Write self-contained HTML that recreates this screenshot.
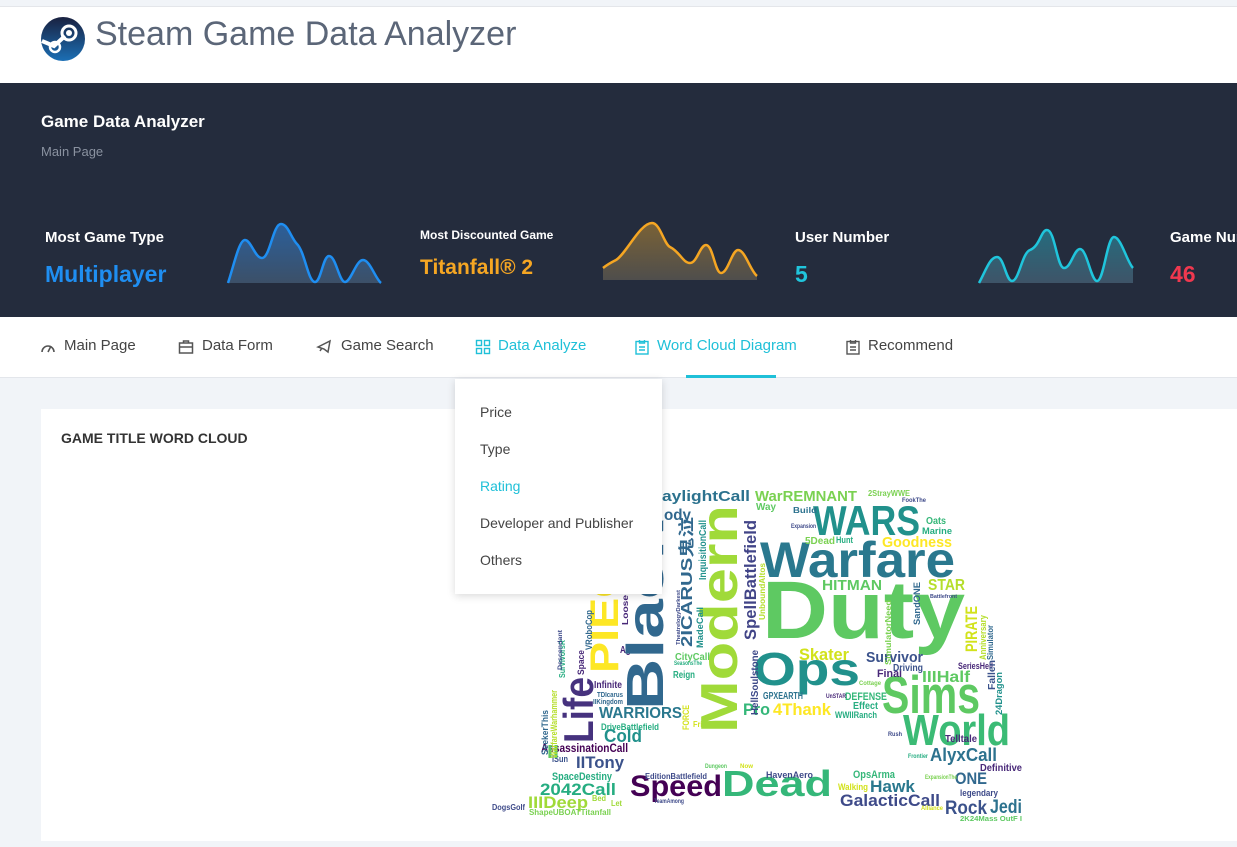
<!DOCTYPE html>
<html><head><meta charset="utf-8">
<style>
*{margin:0;padding:0;box-sizing:border-box}
body{width:1237px;height:847px;overflow:hidden;background:#f1f4f8;font-family:"Liberation Sans",sans-serif;position:relative}
.abs{position:absolute}
#topbar{left:0;top:0;width:1237px;height:83px;background:#fff;border-top:1px solid #e4e6ea;margin-top:6px}
#hero{left:0;top:83px;width:1237px;height:234px;background:#242c3d}
.lbl{color:#fff;font-weight:bold;white-space:nowrap}
#nav{left:0;top:317px;width:1237px;height:61px;background:#fff;border-bottom:1px solid #e3e6eb}
.navi{position:absolute;top:337px;font-size:15px;color:#444;white-space:nowrap}
.navi.act{color:#1fc0d8}
.ico{position:absolute;top:339px}
#card{left:41px;top:409px;width:1210px;height:432px;background:#fff}
#dd{left:455px;top:379px;width:207px;height:215px;background:#fff;box-shadow:0 2px 8px rgba(0,0,0,.15);z-index:5}
.ddi{position:absolute;left:25px;font-size:14px;color:#444}
</style></head><body>
<div id="topbar" class="abs"></div>
<svg class="abs" style="left:40px;top:16px" width="48" height="48">
<defs><linearGradient id="lg" x1="0" y1="0" x2="0" y2="1"><stop offset="0" stop-color="#1a2140"/><stop offset="1" stop-color="#1b6fb5"/></linearGradient></defs>
<circle cx="23" cy="23" r="22" fill="url(#lg)"/>
<circle cx="29" cy="17" r="7" fill="none" stroke="#fff" stroke-width="3"/>
<circle cx="29" cy="17" r="3" fill="#fff"/>
<path d="M2 25 L14 30 L25 20" stroke="#fff" stroke-width="4" fill="none"/>
<circle cx="15" cy="31" r="5" fill="none" stroke="#fff" stroke-width="2.5"/>
</svg>
<div class="abs" style="left:95px;top:15px;font-size:34px;color:#5b6678;white-space:nowrap">Steam Game Data Analyzer</div>

<div id="hero" class="abs"></div>
<div class="abs lbl" style="left:41px;top:112px;font-size:17px">Game Data Analyzer</div>
<div class="abs" style="left:41px;top:144px;font-size:13px;color:#8a92a0">Main Page</div>

<div class="abs lbl" style="left:45px;top:229px;font-size:15px">Most Game Type</div>
<div class="abs" style="left:45px;top:261px;font-size:23px;color:#1f8ef1;font-weight:bold">Multiplayer</div>
<div class="abs lbl" style="left:420px;top:228px;font-size:12px">Most Discounted Game</div>
<div class="abs" style="left:420px;top:256px;font-size:21px;color:#f5a623;font-weight:bold">Titanfall® 2</div>
<div class="abs lbl" style="left:795px;top:229px;font-size:15px">User Number</div>
<div class="abs" style="left:795px;top:261px;font-size:23px;color:#20c5dc;font-weight:bold">5</div>
<div class="abs lbl" style="left:1170px;top:229px;font-size:15px">Game Number</div>
<div class="abs" style="left:1170px;top:261px;font-size:23px;color:#f0384f;font-weight:bold">46</div>

<svg class="abs" style="left:0;top:0" width="1237" height="317">
<defs>
<linearGradient id="g1" x1="0" y1="0" x2="0" y2="1"><stop offset="0" stop-color="#2b5f9a"/><stop offset="1" stop-color="#3c5068"/></linearGradient>
<linearGradient id="g2" x1="0" y1="0" x2="0" y2="1"><stop offset="0" stop-color="#7a6236"/><stop offset="1" stop-color="#4f4e4c"/></linearGradient>
<linearGradient id="g3" x1="0" y1="0" x2="0" y2="1"><stop offset="0" stop-color="#256c7e"/><stop offset="1" stop-color="#3e5468"/></linearGradient>
</defs>
<g>
<path d="M228 283 C234 265 239 240 245 240 C251 240 255 258 262 258 C270 258 273 224 281 224 C288 224 291 238 297 244 C305 252 308 282 315 282 C321 282 323 256 329 256 C336 256 339 282 345 282 C351 282 356 260 363 260 C370 260 375 278 381 283 Z" fill="url(#g1)"/>
<path d="M228 283 C234 265 239 240 245 240 C251 240 255 258 262 258 C270 258 273 224 281 224 C288 224 291 238 297 244 C305 252 308 282 315 282 C321 282 323 256 329 256 C336 256 339 282 345 282 C351 282 356 260 363 260 C370 260 375 278 381 283" fill="none" stroke="#1f8ef1" stroke-width="2.5"/>
</g>
<g>
<path d="M603 280 L603 268 C608 264 612 262 616 260 C626 254 640 223 652 223 C660 223 664 244 670 247 C680 252 683 263 690 263 C697 263 700 245 706 245 C713 245 715 273 721 273 C728 273 732 250 738 250 C745 250 750 270 757 276 L757 280 Z" fill="url(#g2)"/>
<path d="M603 268 C608 264 612 262 616 260 C626 254 640 223 652 223 C660 223 664 244 670 247 C680 252 683 263 690 263 C697 263 700 245 706 245 C713 245 715 273 721 273 C728 273 732 250 738 250 C745 250 750 270 757 276" fill="none" stroke="#f5a623" stroke-width="2.5"/>
</g>
<g>
<path d="M979 283 C986 270 990 257 997 257 C1004 257 1006 281 1012 281 C1019 281 1022 253 1030 250 C1040 246 1041 230 1047 230 C1055 230 1057 268 1064 268 C1071 268 1074 249 1080 249 C1087 249 1091 281 1097 281 C1104 281 1107 237 1114 237 C1121 237 1127 262 1133 268 L1133 283 Z" fill="url(#g3)"/>
<path d="M979 283 C986 270 990 257 997 257 C1004 257 1006 281 1012 281 C1019 281 1022 253 1030 250 C1040 246 1041 230 1047 230 C1055 230 1057 268 1064 268 C1071 268 1074 249 1080 249 C1087 249 1091 281 1097 281 C1104 281 1107 237 1114 237 C1121 237 1127 262 1133 268" fill="none" stroke="#20c5dc" stroke-width="2.5"/>
</g>
</svg>

<div id="nav" class="abs"></div>
<svg class="ico" style="left:40px;top:339px" width="16" height="16"><path d="M2 13 A6 6 0 0 1 14 13" fill="none" stroke="#555" stroke-width="1.6"/><path d="M8 13 L11 7" stroke="#555" stroke-width="1.6"/></svg>
<div class="navi" style="left:64px">Main Page</div>
<svg class="ico" style="left:178px" width="16" height="16"><rect x="1.5" y="4" width="13" height="10" fill="none" stroke="#555" stroke-width="1.5"/><path d="M5.5 4 V2 H10.5 V4 M1.5 8 H14.5" fill="none" stroke="#555" stroke-width="1.5"/></svg>
<div class="navi" style="left:202px">Data Form</div>
<svg class="ico" style="left:316px" width="18" height="16"><path d="M2 8 L14 2 L12 13 L8 10 Z M4 12 L6 9" fill="none" stroke="#555" stroke-width="1.5"/></svg>
<div class="navi" style="left:341px">Game Search</div>
<svg class="ico" style="left:475px" width="16" height="16"><g fill="none" stroke="#1fc0d8" stroke-width="1.4"><rect x="1.5" y="1.5" width="5" height="5"/><rect x="9.5" y="1.5" width="5" height="5"/><rect x="1.5" y="9.5" width="5" height="5"/><rect x="9.5" y="9.5" width="5" height="5"/></g></svg>
<div class="navi act" style="left:498px">Data Analyze</div>
<svg class="ico" style="left:634px" width="16" height="16"><g fill="none" stroke="#1fc0d8" stroke-width="1.4"><rect x="2" y="2.5" width="12" height="12.5"/><path d="M5.5 1 V4 H10.5 V1 M5 8 H11 M5 11 H11"/></g></svg>
<div class="navi act" style="left:657px">Word Cloud Diagram</div>
<div class="abs" style="left:686px;top:375px;width:90px;height:3px;background:#1fc0d8"></div>
<svg class="ico" style="left:845px" width="16" height="16"><g fill="none" stroke="#555" stroke-width="1.4"><rect x="2" y="2.5" width="12" height="12.5"/><path d="M5.5 1 V4 H10.5 V1 M5 8 H11 M5 11 H11"/></g></svg>
<div class="navi" style="left:868px">Recommend</div>

<div id="card" class="abs"></div>
<div class="abs" style="left:61px;top:430px;font-size:14px;font-weight:bold;color:#333">GAME TITLE WORD CLOUD</div>

<svg id="wc" class="abs" style="left:0;top:0" width="1237" height="847"></svg>

<div id="dd" class="abs">
<div class="ddi" style="top:25px">Price</div>
<div class="ddi" style="top:62px">Type</div>
<div class="ddi" style="top:99px;color:#1fc0d8">Rating</div>
<div class="ddi" style="top:136px">Developer and Publisher</div>
<div class="ddi" style="top:173px">Others</div>
</div>

<script>
// word, x, baseline y, font size, length, colour, rotated
const words=["Duty","Warfare","WARS","Ops","Sims","World","Dead","Speed","GalacticCall","Rock","Jedi","AlyxCall","ONE","Hawk","2042Call","IIIDeep","IITony","WARRIORS","Cold","Skater","Survivor","IIIHalf","4Thank","Pro","Goodness","HITMAN","STAR","WarREMNANT","aylightCall","ody","AssassinationCall","SpaceDestiny","DriveBattlefield","EditionBattlefield","HavenAero","OpsArma","Walking","Definitive","legendary","Telltale","Final","Driving","SeriesHell","DEFENSE","Effect","WWIIRanch","GPXEARTH","CityCall","Reign","FriendsCall","Infinite","TDIcarus","IIKingdom","ISun","DogsGolf","ShapeUBOATTitanfall","Bed","Let","Age","Build","Way","2StrayWWE","FookThe","Oats","Marine","Expansion","5Dead","Hunt","Battlefront","Cottage","Rush","Frontier","ExpansionThe","Alliance","2K24Mass OutF I","Dungeon","Now","TeamAmong","UnSTAR","SeasonsThe","II",
"Modern","Black","PIECE","Life","SpellBattlefield","2ICARUS鬼泣","InquisitionCall","MadeCall","UnboundAltos","HellSoulstone","SimulatorNeed","SandONE","PIRATE","Anniversary","Simulator","Fallen","24Dragon","FORCE","WarfareWarhammer","SeekerThis","SurvivorsR","Descendant","Space","VRoboCop","TheatrelogyDarkest","Loose"];
const wx=[762,760,813,753,882,903,722,630,840,945,990,930,955,870,540,528,576,599,604,799,866,922,773,743,882,822,928,755,662,664,541,552,601,645,766,853,838,980,960,945,877,893,958,845,853,835,763,675,673,693,594,597,593,552,492,529,592,611,620,793,756,868,902,926,922,791,805,836,930,859,888,908,925,921,960,705,740,654,826,674,547,
737,663,618,593,756,692,706,703,765,758,891,920,977,986,993,995,1002,689,557,548,565,562,584,592,680,628];
const wy=[638,577,535,685,713,745,796,796,806,814,813,761,784,792,795,808,768,718,742,660,662,682,715,715,547,590,590,501,501,520,752,780,730,779,778,778,790,771,796,742,677,671,669,700,709,718,699,660,678,727,688,697,704,762,810,815,801,806,653,513,510,496,502,524,534,528,544,543,598,685,736,758,779,810,821,768,768,803,698,665,758,
733,710,673,743,640,647,580,648,620,715,665,625,652,660,660,690,715,730,758,755,678,670,675,650,645,625];
const ws=[82,50,42,46,53,44,36,30,17,19,19,18,17,17,17,17,17,16,18,17,15,16,17,17,15,15,16,15,15,16,12,11,9,8,9,11,9,10,9,10,11,10,9,11,10,9,10,10,10,8,10,7,7,9,8,8,8,8,10,8,10,8,6,10,9,6,10,9,5,6,6,6,6,6,7,6,6,6,6,6,18,
52,52,40,42,17,16,10,9,8,10,8,9,17,9,8,10,9,9,9,9,8,6,9,9,5,8];
const wl=[203,195,107,107,98,107,110,92,100,42,32,67,32,45,76,60,48,83,38,50,57,48,58,27,70,60,37,102,88,27,87,60,58,62,47,42,30,42,38,32,25,30,35,42,25,42,40,35,22,40,28,26,30,16,33,82,14,11,15,24,20,42,24,20,30,25,30,17,27,22,14,20,32,22,62,22,13,30,20,28,12,
228,190,140,66,120,130,60,41,57,65,65,43,46,45,35,30,43,25,68,45,38,40,25,40,55,30];
const wc=["#5ec962","#2a788e","#21918c","#21918c","#5ec962","#3bbb75","#35b779","#440154","#3e4a89","#3b528b","#2c728e","#2c728e","#31688e","#2a788e","#26ad81","#a0da39","#3b528b","#2a788e","#21918c","#d2e21b","#3b528b","#5ec962","#fde725","#35b779","#fde725","#5ec962","#b5de2b","#7ad151","#2c728e","#31688e","#440154","#26ad81","#26ad81","#3e4a89","#3e4a89","#35b779","#d2e21b","#482878","#3e4a89","#482878","#482878","#3b528b","#482878","#35b779","#26ad81","#26ad81","#2c728e","#5ec962","#26ad81","#d2e21b","#482878","#31688e","#31688e","#3b528b","#3e4a89","#7ad151","#a0da39","#a0da39","#482878","#2c728e","#5ec962","#7ad151","#3e4a89","#35b779","#26ad81","#3e4a89","#7ad151","#26ad81","#3e4a89","#7ad151","#3e4a89","#26ad81","#7ad151","#d2e21b","#5ec962","#5ec962","#d2e21b","#3e4a89","#482878","#26ad81","#5ec962",
"#a0da39","#31688e","#fde725","#46327e","#414487","#31688e","#21918c","#21918c","#b5de2b","#3e4a89","#7ad151","#31688e","#d2e21b","#b5de2b","#31688e","#3b528b","#21918c","#d2e21b","#b5de2b","#31688e","#26ad81","#3e4a89","#482878","#31688e","#3e4a89","#482878"];
const ROT_START=81;
const svg=document.getElementById('wc');
const NS='http://www.w3.org/2000/svg';
for(let i=0;i<words.length;i++){
  const t=document.createElementNS(NS,'text');
  
  
  t.setAttribute('x',wx[i]);
  t.setAttribute('y',wy[i]);
  t.setAttribute('font-size',ws[i]);
  t.setAttribute('textLength',wl[i]);
  t.setAttribute('lengthAdjust','spacingAndGlyphs');
  t.setAttribute('fill',wc[i]);
  t.setAttribute('font-weight','bold');
  t.setAttribute('font-family','"Liberation Sans","Noto Sans CJK SC",sans-serif');
  if(i>=ROT_START) t.setAttribute('transform','rotate(-90 '+wx[i]+' '+wy[i]+')');
  t.textContent=words[i];
  svg.appendChild(t);
}
</script>
</body></html>
